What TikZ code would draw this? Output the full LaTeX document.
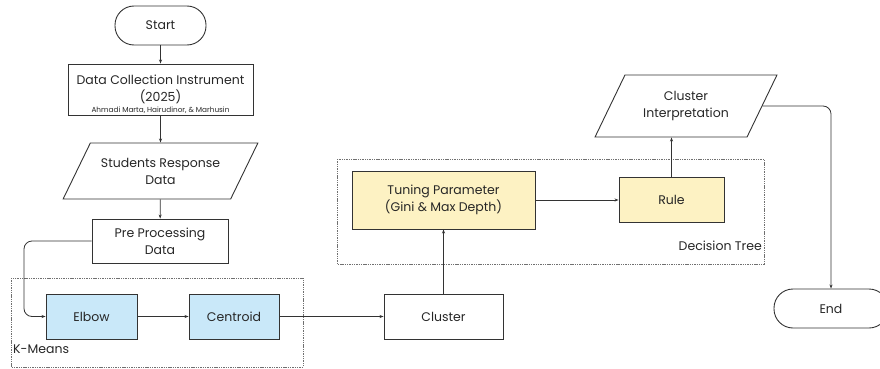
\documentclass[tikz,border=0pt]{standalone}
\usepackage{fontspec}
\setmainfont{Poppins}
\usetikzlibrary{arrows.meta,shapes.geometric}
\definecolor{lineC}{HTML}{333333}
\definecolor{blueF}{HTML}{C9E8F9}
\definecolor{yellowF}{HTML}{FDF2C3}
\definecolor{dashC}{HTML}{707070}
\tikzset{
  base/.style={draw=lineC,line width=0.9pt,font=\fontsize{12.5}{17}\selectfont,align=center,inner sep=0pt,text=black!85},
  terminal/.style={base,rounded corners=19pt},
  procbox/.style={base,rectangle},
  iobox/.style={base,trapezium,trapezium stretches=true},
  bluebox/.style={procbox,fill=blueF},
  yellowbox/.style={procbox,fill=yellowF},
  groupbox/.style={draw=dashC,line width=0.8pt,dash pattern=on 1.4pt off 0.9pt},
  grouplabel/.style={font=\fontsize{12.5}{15}\selectfont,inner sep=0pt,text=black!85},
  conn/.style={draw=lineC,line width=0.8pt,-{Stealth[length=4pt,width=3pt]}},
}
\begin{document}
\begin{tikzpicture}[x=1pt,y=-1pt]
\useasboundingbox (0,0) rectangle (880,369);
% group boxes
\draw[groupbox] (11,278) rectangle (303,367);
\node[grouplabel,anchor=west] (kmlab) at (13,349) {K-Means};
\draw[groupbox] (337,159) rectangle (764,264);
\node[grouplabel,anchor=east] (dtlab) at (762,246) {Decision Tree};
% nodes
\node[terminal,minimum width=91pt,minimum height=39pt] (start) at (160.5,25.5) {Start};
\node[procbox,minimum width=185pt,minimum height=51pt] (dci) at (160.5,89.5)
  {\rule{0pt}{20pt}Data Collection Instrument\\(2025)\\[-6pt]{\fontsize{7.3}{8}\selectfont Ahmadi Marta, Hairudinor, \& Marhusin}};
\node[iobox,trapezium left angle=48.8,trapezium right angle=131.2,minimum width=195pt,minimum height=56pt] (srd) at (160.5,171) {Students Response\\Data};
\node[procbox,minimum width=136pt,minimum height=44pt] (pre) at (160,241) {Pre Processing\\Data};
\node[bluebox,minimum width=91pt,minimum height=45pt] (elbow) at (91.5,316.5) {Elbow};
\node[bluebox,minimum width=90pt,minimum height=45pt] (centroid) at (234,316.5) {Centroid};
\node[procbox,minimum width=119pt,minimum height=45pt] (cluster) at (443.5,316.5) {Cluster};
\node[yellowbox,minimum width=183pt,minimum height=58pt] (tuning) at (443.5,200) {Tuning Parameter\\(Gini \& Max Depth)};
\node[yellowbox,minimum width=105pt,minimum height=45pt] (rule) at (671.5,200) {Rule};
\node[iobox,trapezium left angle=54.6,trapezium right angle=125.4,minimum width=182pt,minimum height=62pt] (ci) at (686,106) {Cluster\\Interpretation};
\node[terminal,minimum width=114pt,minimum height=39pt] (endn) at (831,308.5) {End};
\coordinate (kl) at (24,316.5);
% connectors
\draw[conn] (start) -- (dci);
\draw[conn] (dci) -- (srd);
\draw[conn] (srd) -- (pre);
\draw[conn,rounded corners=8pt] (pre.west) -| (kl) -- (elbow.west);
\draw[conn] (elbow) -- (centroid);
\draw[conn] (centroid) -- (cluster);
\draw[conn] (cluster) -- (tuning);
\draw[conn] (tuning) -- (rule);
\draw[conn] (rule.north) -- (rule.north |- ci.south);
\draw[conn,rounded corners=8pt] (ci.east) -| (endn.north);
\end{tikzpicture}
\end{document}
